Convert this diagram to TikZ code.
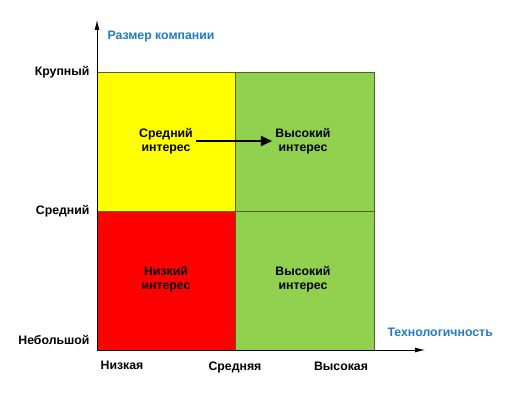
\documentclass[tikz,border=0pt]{standalone}
\usepackage{fontspec}
\setmainfont{Liberation Sans}
\usetikzlibrary{arrows.meta}
\definecolor{cellyellow}{HTML}{FFFF00}
\definecolor{cellgreen}{HTML}{92D050}
\definecolor{cellred}{HTML}{FF0000}
\definecolor{cellline}{HTML}{4F6228}
\definecolor{axisblue}{HTML}{1F7BC8}
\begin{document}
\begin{tikzpicture}[x=1pt,y=1pt]
    \tikzstyle{cell}=[draw=cellline,line width=0.8pt]
    \tikzstyle{interest}=[align=center,font=\bfseries\fontsize{12.3}{14.5}\selectfont]
    \tikzstyle{tick}=[font=\bfseries\fontsize{12.3}{14.5}\selectfont]
    \tikzstyle{title}=[font=\bfseries\fontsize{12.3}{14.5}\selectfont,text=axisblue,anchor=west]
    \tikzstyle{axis}=[line width=0.8pt,-{Latex[length=10pt,width=5pt]}]

    \useasboundingbox (0,0) rectangle (516,398);

    % cells
    \draw[cell,fill=cellyellow] (97,187) rectangle (235,326);
    \draw[cell,fill=cellgreen] (235,187) rectangle (374,326);
    \draw[cell,fill=cellred] (97,48) rectangle (235,187);
    \draw[cell,fill=cellgreen] (235,48) rectangle (374,187);

    % axes
    \coordinate (o) at (97,48);
    \coordinate (ytip) at (97,378);
    \coordinate (xtip) at (425,48);
    \draw[axis] (o) -- (ytip);
    \draw[axis] (o) -- (xtip);

    \node[title] at (104,361) (size) {Размер компании};
    \node[title] at (384,66) (tech) {Технологичность};

    \node[tick,anchor=east] at (93,326) (big) {Крупный};
    \node[tick,anchor=east] at (93,187) (medium) {Средний};
    \node[tick,anchor=east] at (93,58) (small) {Небольшой};

    \node[tick] at (122,33) (low) {Низкая};
    \node[tick] at (235,31) (mid) {Средняя};
    \node[tick] at (341,32) (high) {Высокая};

    \node[interest] at (166,257) (midint) {Средний\\интерес};
    \node[interest] at (303,257) (highint) {Высокий\\интерес};
    \node[interest] at (166,119) (lowint) {Низкий\\интерес};
    \node[interest] at (303,119) (highint2) {Высокий\\интерес};

    \draw[line width=2pt,-{Triangle[length=11pt,width=10pt]}] (midint.east) -- (highint.west);
\end{tikzpicture}
\end{document}
